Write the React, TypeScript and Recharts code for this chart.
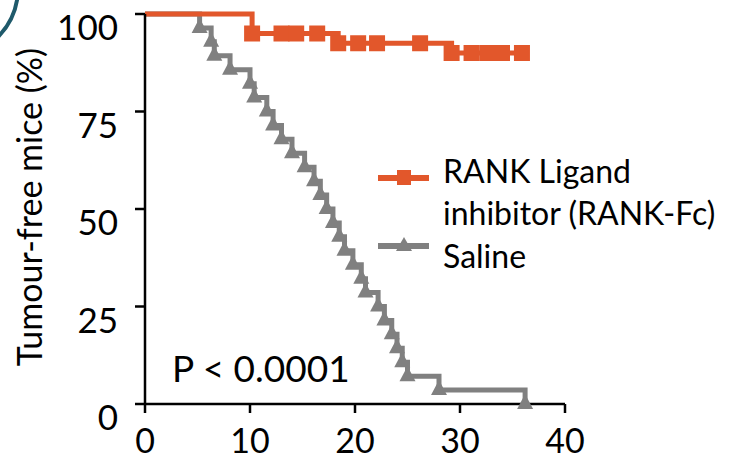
import React from 'react';
import { LineChart, Line, XAxis, YAxis, Legend, Customized } from 'recharts';

const FONT = 'Lato, "Open Sans", sans-serif';
const ORANGE = '#E2572B';
const GREY = '#808080';

// RANK Ligand inhibitor (RANK-Fc) – Kaplan–Meier steps (day, % tumour-free)
const rankFcDays = [0, 10.2, 13.0, 14.4, 16.4, 18.4, 20.3, 22.1, 26.2, 29.2, 31.1, 32.6, 34.0, 35.9];
const rankFcValues = [100, 95, 95, 95, 95, 92.5, 92.5, 92.5, 92.5, 90, 90, 90, 90, 90];

// Saline
const salineDays = [0, 5.2, 6.3, 6.6, 8.1, 10.0, 10.4, 11.6, 12.2, 13.0, 14.0, 15.2, 16.1, 16.7, 17.3, 17.9, 18.5, 19.0, 19.8, 20.6, 21.0, 22.2, 22.8, 23.5, 24.0, 24.5, 25.0, 28.0, 36.2];
const salineValues = [100, 96.4, 92.9, 89.3, 85.7, 82.1, 78.6, 75, 71.4, 67.9, 64.3, 60.7, 57.1, 53.6, 50, 46.4, 42.9, 39.3, 35.7, 32.1, 28.6, 25, 21.4, 17.9, 14.3, 10.7, 7.1, 3.6, 0];

const xTicks = [0, 10, 20, 30, 40];
const yTicks = [0, 25, 50, 75, 100];

const seriesNames = ['RANK Ligand inhibitor (RANK-Fc)', 'Saline'];
const legendLines = ['RANK Ligand', 'inhibitor (RANK-Fc)'];
const yAxisTitle = 'Tumour-free mice (%)';
const pValueText = 'P < 0.0001';

const rankFcData = rankFcDays.map((d, i) => ({ day: d, value: rankFcValues[i], marker: i > 0 }));
const salineData = salineDays.map((d, i) => ({ day: d, value: salineValues[i], marker: i > 0 }));

const SquareDot = (props: any) => {
  const { cx, cy, payload, index } = props;
  if (!payload || !payload.marker || cx == null) return <g key={`sq-${index}`} />;
  return <rect key={`sq-${index}`} x={cx - 8} y={cy - 8} width={16} height={16} fill={ORANGE} />;
};

const TriangleDot = (props: any) => {
  const { cx, cy, payload, index } = props;
  if (!payload || !payload.marker || cx == null) return <g key={`tr-${index}`} />;
  return (
    <polygon
      key={`tr-${index}`}
      points={`${cx},${cy - 10} ${cx - 8},${cy + 5} ${cx + 8},${cy + 5}`}
      fill={GREY}
    />
  );
};

const YTick = (props: any) => {
  const { x, y, payload } = props;
  return (
    <text x={x} y={y} dy={26} textAnchor="end" fontFamily={FONT} fontSize={35} fill="#000">
      {payload.value}
    </text>
  );
};

const XTick = (props: any) => {
  const { x, y, payload } = props;
  return (
    <text x={x} y={y} dy={40} textAnchor="middle" fontFamily={FONT} fontSize={34} fill="#000">
      {payload.value}
    </text>
  );
};

const LegendContent = (props: any) => {
  const payload = props.payload || [];
  const orange = payload[0];
  const grey = payload[1];
  return (
    <svg width={362} height={130} style={{ display: 'block', overflow: 'visible' }}>
      {orange && (
        <g>
          <line x1={8} y1={28} x2={59} y2={28} stroke={orange.color} strokeWidth={6} />
          <rect x={27} y={20} width={14} height={15} fill={orange.color} />
          <text x={73} y={33} fontFamily={FONT} fontSize={32} fill="#000">{legendLines[0]}</text>
          <text x={73} y={75} fontFamily={FONT} fontSize={32} fill="#000">{legendLines[1]}</text>
        </g>
      )}
      {grey && (
        <g>
          <line x1={8} y1={96} x2={59} y2={96} stroke={grey.color} strokeWidth={6} />
          <polygon points={`34,87 26,101 42,101`} fill={grey.color} />
          <text x={73} y={118} fontFamily={FONT} fontSize={32} fill="#000">{grey.value}</text>
        </g>
      )}
    </svg>
  );
};

const Annotations = () => (
  <g>
    <text
      x={42}
      y={207}
      transform="rotate(-90 42 207)"
      textAnchor="middle"
      fontFamily={FONT}
      fontSize={34}
      fill="#000"
    >
      {yAxisTitle}
    </text>
    <text x={172} y={382} fontFamily={FONT} fontSize={37} fill="#000">
      {pValueText}
    </text>
    <circle cx={-52} cy={-12} r={70} fill="none" stroke="#1F5A6B" strokeWidth={4} />
  </g>
);

export default function App() {
  return (
    <div style={{ position: 'absolute', left: 0, top: 0, width: 732, height: 460, background: '#fff' }}>
      <LineChart
        width={732}
        height={460}
        margin={{ top: 14, right: 167, bottom: 0, left: 0 }}
      >
        <XAxis
          dataKey="day"
          type="number"
          domain={[0, 40]}
          ticks={xTicks}
          height={56}
          tickSize={9}
          tickMargin={0}
          tick={<XTick />}
          axisLine={{ stroke: '#000', strokeWidth: 2.5 }}
          tickLine={{ stroke: '#000', strokeWidth: 2.5 }}
          allowDuplicatedCategory={false}
        />
        <YAxis
          type="number"
          domain={[0, 100]}
          ticks={yTicks}
          width={145}
          tickSize={10}
          tickMargin={17}
          tick={<YTick />}
          axisLine={{ stroke: '#000', strokeWidth: 2.5 }}
          tickLine={{ stroke: '#000', strokeWidth: 2.5 }}
        />
        <Line
          data={salineData}
          dataKey="value"
          name={seriesNames[1]}
          type="stepAfter"
          stroke={GREY}
          strokeWidth={5}
          dot={TriangleDot}
          activeDot={false}
          isAnimationActive={false}
          legendType="line"
        />
        <Line
          data={rankFcData}
          dataKey="value"
          name={seriesNames[0]}
          type="stepAfter"
          stroke={ORANGE}
          strokeWidth={5}
          dot={SquareDot}
          activeDot={false}
          isAnimationActive={false}
          legendType="line"
        />
        <Legend
          layout="horizontal"
          verticalAlign="middle"
          align="center"
          content={(p: any) => {
            const items = (p.payload || []).slice();
            const o = items.find((it: any) => it.value === seriesNames[0]);
            const g = items.find((it: any) => it.value === seriesNames[1]);
            return <LegendContent payload={[o, g]} />;
          }}
          wrapperStyle={{ position: 'absolute', left: 370, top: 150, width: 362, height: 130 }}
        />
        <Customized component={Annotations} />
      </LineChart>
    </div>
  );
}
